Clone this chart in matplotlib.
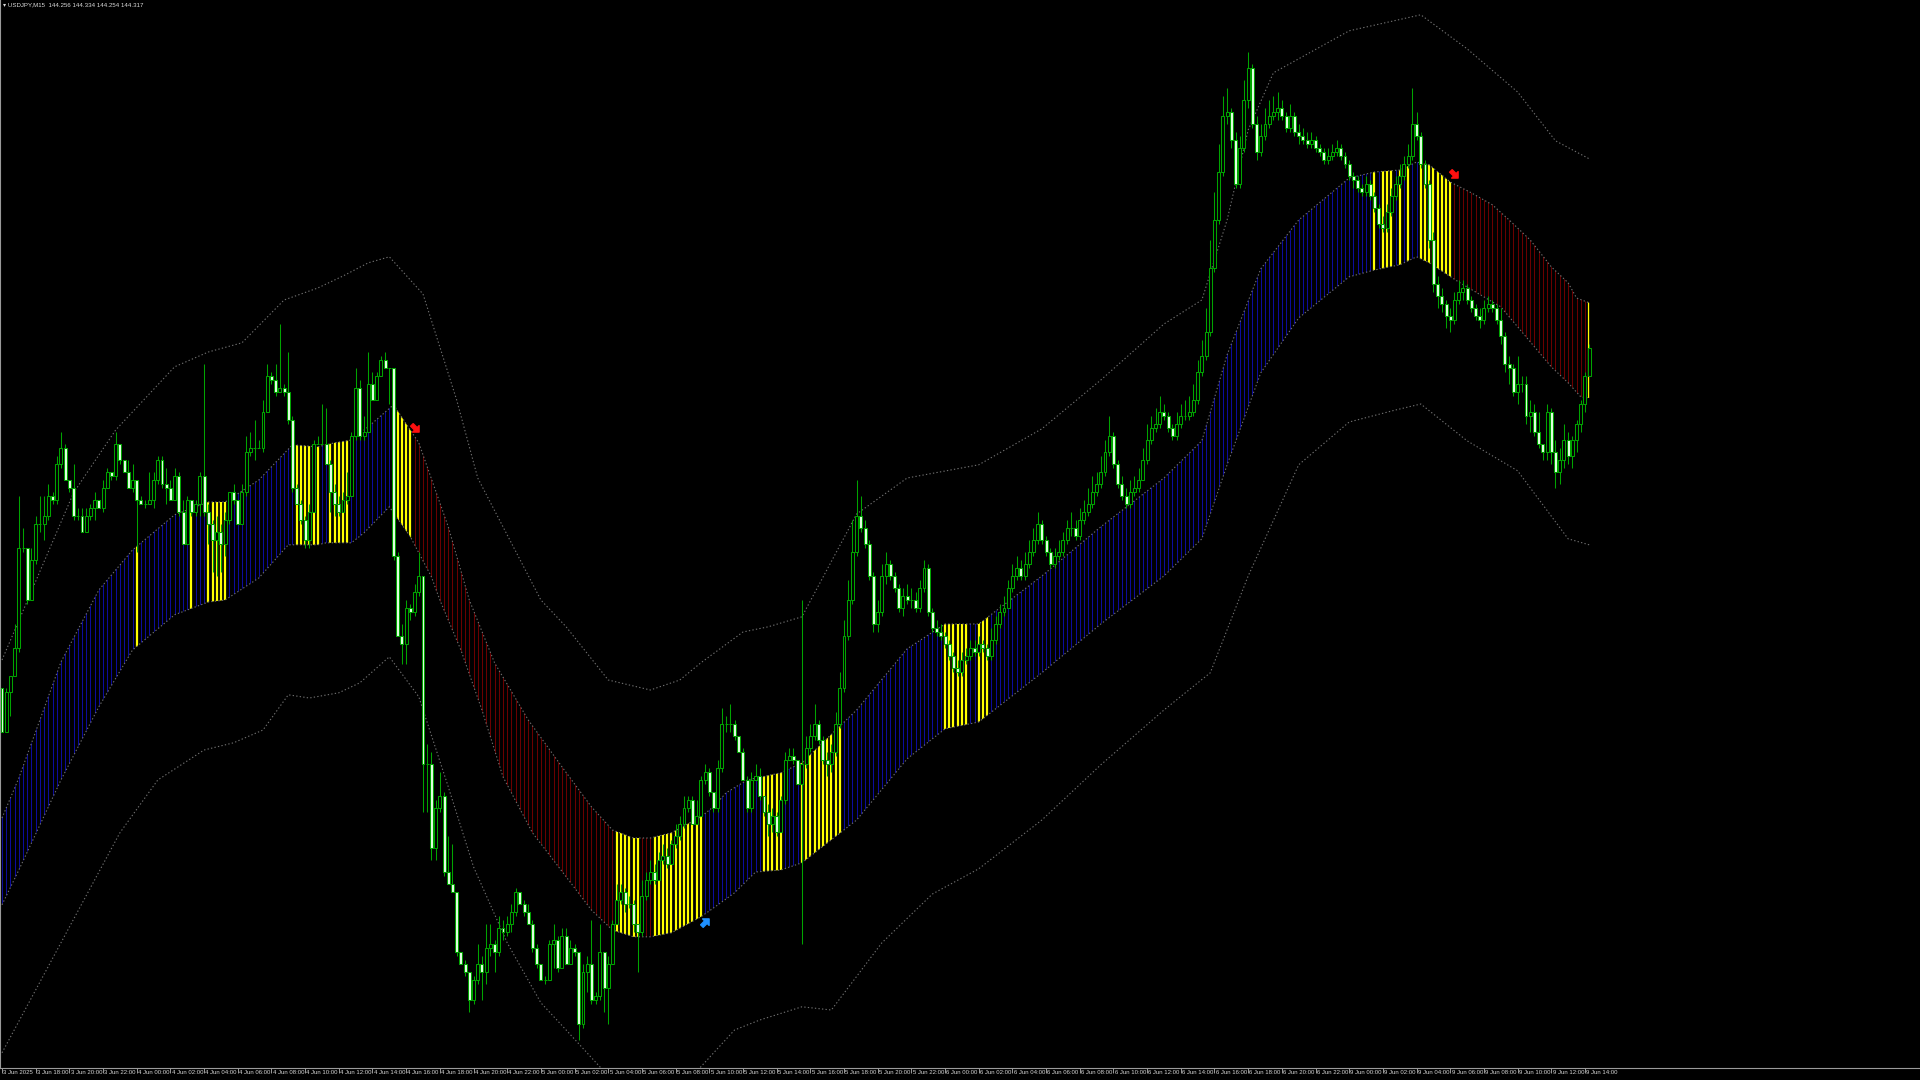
import numpy as np
import matplotlib
matplotlib.use('Agg')
import matplotlib.pyplot as plt
from matplotlib.patches import Polygon
from matplotlib.path import Path
from matplotlib.transforms import blended_transform_factory

# header line of the chart window
header = '\u25be USDJPY,M15  144.256 144.334 144.254 144.317'

# M15 candles, 3 Jun 16:00 -> 9 Jun 14:15 (open of each bar = close of the previous one)
first_open = 143.47
close = [
    143.36, 143.46, 143.50, 143.57, 143.82, 143.82, 143.69, 143.79, 143.88, 143.88,
    143.90, 143.95, 143.94, 144.03, 144.07, 143.99, 143.97, 143.90, 143.90, 143.86,
    143.90, 143.92, 143.94, 143.92, 143.97, 144.01, 144.00, 144.08, 144.04, 144.01,
    143.97, 143.99, 143.94, 143.93, 143.93, 143.94, 143.99, 144.04, 143.98, 143.97,
    143.94, 144.00, 143.91, 143.83, 143.94, 143.91, 143.93, 144.00, 143.91, 143.88,
    143.84, 143.86, 143.83, 143.89, 143.96, 143.94, 143.88, 143.96, 144.06, 144.07,
    144.07, 144.07, 144.16, 144.25, 144.24, 144.21, 144.22, 144.21, 144.14, 143.97,
    143.93, 143.89, 143.84, 143.91, 144.08, 144.08, 144.08, 144.03, 143.96, 143.93,
    143.91, 143.94, 143.95, 144.10, 144.22, 144.10, 144.11, 144.23, 144.19, 144.25,
    144.29, 144.27, 144.27, 143.80, 143.60, 143.58, 143.67, 143.66, 143.71, 143.75,
    143.28, 143.28, 143.07, 143.17, 143.20, 143.01, 142.98, 142.96, 142.81, 142.78,
    142.76, 142.69, 142.74, 142.78, 142.76, 142.82, 142.83, 142.81, 142.87, 142.86,
    142.88, 142.91, 142.96, 142.93, 142.91, 142.88, 142.82, 142.78, 142.74, 142.74,
    142.83, 142.84, 142.77, 142.85, 142.78, 142.82, 142.81, 142.63, 142.76, 142.78,
    142.69, 142.70, 142.81, 142.72, 142.78, 142.88, 142.94, 142.96, 142.93, 142.93,
    142.88, 142.86, 142.95, 142.99, 143.01, 142.99, 143.04, 143.05, 143.03, 143.08,
    143.10, 143.13, 143.17, 143.19, 143.13, 143.15, 143.24, 143.26, 143.21, 143.17,
    143.27, 143.38, 143.38, 143.38, 143.35, 143.31, 143.24, 143.17, 143.24, 143.25,
    143.20, 143.16, 143.13, 143.15, 143.11, 143.19, 143.29, 143.30, 143.29, 143.23,
    143.28, 143.32, 143.35, 143.38, 143.34, 143.29, 143.28, 143.31, 143.38, 143.47,
    143.60, 143.69, 143.81, 143.90, 143.87, 143.83, 143.75, 143.63, 143.66, 143.75,
    143.78, 143.75, 143.72, 143.67, 143.70, 143.69, 143.69, 143.67, 143.72, 143.77,
    143.66, 143.62, 143.61, 143.60, 143.58, 143.55, 143.52, 143.51, 143.54, 143.55,
    143.57, 143.56, 143.58, 143.57, 143.55, 143.59, 143.63, 143.66, 143.67, 143.72,
    143.75, 143.77, 143.75, 143.78, 143.81, 143.84, 143.88, 143.84, 143.81, 143.78,
    143.80, 143.81, 143.84, 143.87, 143.87, 143.85, 143.89, 143.91, 143.93, 143.96,
    143.98, 144.01, 144.06, 144.10, 144.03, 143.98, 143.95, 143.93, 143.96, 143.97,
    143.99, 144.04, 144.09, 144.12, 144.13, 144.16, 144.15, 144.12, 144.10, 144.13,
    144.15, 144.15, 144.16, 144.19, 144.26, 144.30, 144.36, 144.52, 144.64, 144.76,
    144.90, 144.91, 144.84, 144.73, 144.82, 144.94, 145.02, 144.88, 144.81, 144.85,
    144.88, 144.90, 144.91, 144.92, 144.90, 144.87, 144.90, 144.86, 144.85, 144.84,
    144.83, 144.84, 144.82, 144.81, 144.79, 144.80, 144.81, 144.82, 144.80, 144.78,
    144.75, 144.74, 144.72, 144.71, 144.73, 144.70, 144.67, 144.63, 144.62, 144.66,
    144.70, 144.73, 144.75, 144.78, 144.80, 144.88, 144.85, 144.78, 144.73, 144.59,
    144.48, 144.45, 144.43, 144.40, 144.39, 144.44, 144.46, 144.47, 144.44, 144.42,
    144.40, 144.39, 144.42, 144.43, 144.42, 144.39, 144.35, 144.28, 144.27, 144.21,
    144.23, 144.23, 144.15, 144.16, 144.11, 144.08, 144.06, 144.16, 144.06, 144.01,
    144.04, 144.09, 144.05, 144.09, 144.13, 144.18, 144.25, 144.32,
]
high = [
    143.47, 143.47, 143.50, 143.63, 143.95, 143.87, 143.82, 143.82, 143.90, 143.95,
    143.95, 143.98, 143.96, 144.05, 144.11, 144.08, 143.99, 144.03, 143.92, 143.92,
    143.92, 143.93, 143.96, 143.94, 143.99, 144.02, 144.01, 144.11, 144.08, 144.04,
    144.04, 144.03, 143.97, 143.95, 143.94, 144.01, 144.01, 144.05, 144.05, 144.02,
    143.99, 144.02, 144.01, 143.94, 143.95, 143.94, 143.94, 144.01, 144.28, 143.93,
    143.89, 143.90, 143.88, 143.91, 143.96, 143.98, 143.94, 143.98, 144.10, 144.11,
    144.14, 144.09, 144.19, 144.28, 144.26, 144.28, 144.38, 144.23, 144.31, 144.15,
    143.98, 143.94, 143.90, 143.93, 144.09, 144.10, 144.18, 144.17, 144.04, 143.98,
    143.95, 143.96, 144.01, 144.11, 144.27, 144.24, 144.15, 144.31, 144.26, 144.26,
    144.30, 144.31, 144.27, 144.27, 143.81, 143.63, 143.69, 143.68, 143.73, 143.81,
    143.75, 143.33, 143.31, 143.19, 143.26, 143.21, 143.10, 143.08, 142.96, 142.81,
    142.79, 142.76, 142.75, 142.83, 142.80, 142.88, 142.88, 142.84, 142.90, 142.89,
    142.90, 142.93, 142.97, 142.96, 142.94, 142.93, 142.89, 142.83, 142.77, 142.75,
    142.84, 142.88, 142.85, 142.87, 142.87, 142.84, 142.83, 142.81, 142.78, 142.80,
    142.89, 142.71, 142.88, 142.81, 142.80, 142.89, 142.98, 142.98, 142.97, 142.95,
    142.94, 142.88, 142.99, 143.01, 143.04, 143.03, 143.06, 143.08, 143.07, 143.09,
    143.13, 143.15, 143.20, 143.20, 143.20, 143.19, 143.25, 143.28, 143.27, 143.21,
    143.29, 143.42, 143.40, 143.43, 143.39, 143.35, 143.32, 143.25, 143.26, 143.28,
    143.27, 143.20, 143.18, 143.17, 143.16, 143.20, 143.31, 143.32, 143.32, 143.29,
    143.69, 143.35, 143.38, 143.43, 143.39, 143.35, 143.31, 143.33, 143.41, 143.51,
    143.64, 143.74, 143.89, 143.99, 143.95, 143.89, 143.84, 143.76, 143.69, 143.78,
    143.81, 143.79, 143.76, 143.73, 143.72, 143.73, 143.72, 143.71, 143.74, 143.79,
    143.78, 143.67, 143.64, 143.63, 143.61, 143.59, 143.56, 143.54, 143.56, 143.57,
    143.59, 143.59, 143.60, 143.59, 143.58, 143.62, 143.65, 143.68, 143.70, 143.74,
    143.78, 143.80, 143.79, 143.81, 143.84, 143.87, 143.91, 143.89, 143.85, 143.82,
    143.82, 143.84, 143.86, 143.89, 143.91, 143.89, 143.92, 143.94, 143.97, 144.00,
    144.01, 144.05, 144.09, 144.15, 144.11, 144.04, 144.00, 143.97, 143.99, 144.00,
    144.02, 144.07, 144.13, 144.15, 144.17, 144.20, 144.18, 144.16, 144.13, 144.16,
    144.18, 144.19, 144.20, 144.23, 144.29, 144.34, 144.42, 144.59, 144.71, 144.83,
    144.95, 144.97, 144.92, 144.86, 144.85, 144.99, 145.06, 145.03, 144.90, 144.88,
    144.92, 144.94, 144.95, 144.96, 144.94, 144.91, 144.93, 144.91, 144.88, 144.87,
    144.86, 144.86, 144.85, 144.83, 144.82, 144.82, 144.83, 144.84, 144.83, 144.81,
    144.79, 144.76, 144.75, 144.73, 144.75, 144.74, 144.71, 144.68, 144.65, 144.68,
    144.72, 144.75, 144.78, 144.80, 144.83, 144.97, 144.91, 144.86, 144.79, 144.74,
    144.61, 144.50, 144.47, 144.44, 144.42, 144.46, 144.49, 144.49, 144.48, 144.45,
    144.43, 144.42, 144.44, 144.45, 144.44, 144.43, 144.42, 144.36, 144.30, 144.28,
    144.30, 144.25, 144.25, 144.19, 144.18, 144.16, 144.08, 144.18, 144.17, 144.09,
    144.07, 144.13, 144.11, 144.10, 144.14, 144.19, 144.26, 144.33,
]
low = [
    143.36, 143.36, 143.40, 143.50, 143.56, 143.81, 143.68, 143.69, 143.78, 143.86,
    143.84, 143.89, 143.93, 143.93, 144.02, 143.99, 143.96, 143.89, 143.89, 143.86,
    143.86, 143.89, 143.89, 143.92, 143.91, 143.97, 143.99, 143.99, 144.03, 144.01,
    143.97, 143.96, 143.81, 143.93, 143.92, 143.93, 143.92, 143.98, 143.97, 143.93,
    143.94, 143.94, 143.90, 143.83, 143.83, 143.90, 143.90, 143.90, 143.90, 143.83,
    143.76, 143.75, 143.76, 143.80, 143.88, 143.93, 143.88, 143.88, 143.95, 144.05,
    144.04, 144.07, 144.06, 144.16, 144.23, 144.20, 144.21, 144.20, 144.13, 143.96,
    143.93, 143.88, 143.82, 143.82, 143.91, 144.08, 144.08, 144.03, 143.91, 143.90,
    143.90, 143.91, 143.93, 143.95, 144.09, 144.09, 144.09, 144.11, 144.19, 144.19,
    144.25, 144.27, 144.18, 143.79, 143.60, 143.53, 143.53, 143.64, 143.65, 143.70,
    143.16, 143.16, 143.04, 143.04, 143.16, 143.00, 142.98, 142.96, 142.80, 142.78,
    142.75, 142.66, 142.68, 142.73, 142.69, 142.73, 142.80, 142.76, 142.80, 142.84,
    142.85, 142.86, 142.90, 142.93, 142.90, 142.88, 142.81, 142.77, 142.74, 142.73,
    142.74, 142.77, 142.76, 142.77, 142.78, 142.78, 142.80, 142.59, 142.62, 142.71,
    142.68, 142.68, 142.69, 142.66, 142.63, 142.78, 142.88, 142.93, 142.91, 142.92,
    142.86, 142.76, 142.85, 142.94, 142.98, 142.98, 142.99, 143.03, 143.02, 143.03,
    143.07, 143.09, 143.12, 143.16, 143.13, 143.13, 143.15, 143.23, 143.20, 143.16,
    143.16, 143.26, 143.36, 143.36, 143.34, 143.31, 143.24, 143.16, 143.16, 143.24,
    143.19, 143.15, 143.10, 143.11, 143.10, 143.11, 143.18, 143.29, 143.28, 143.23,
    142.83, 143.27, 143.31, 143.34, 143.33, 143.28, 143.25, 143.26, 143.30, 143.37,
    143.46, 143.59, 143.68, 143.80, 143.86, 143.82, 143.74, 143.61, 143.61, 143.65,
    143.73, 143.74, 143.71, 143.66, 143.65, 143.68, 143.67, 143.66, 143.66, 143.71,
    143.65, 143.61, 143.60, 143.59, 143.57, 143.54, 143.51, 143.50, 143.50, 143.53,
    143.54, 143.55, 143.55, 143.56, 143.54, 143.54, 143.58, 143.62, 143.65, 143.67,
    143.71, 143.74, 143.74, 143.74, 143.77, 143.80, 143.83, 143.83, 143.80, 143.77,
    143.77, 143.79, 143.80, 143.83, 143.85, 143.84, 143.84, 143.88, 143.90, 143.92,
    143.95, 143.97, 144.00, 144.05, 144.02, 143.97, 143.94, 143.92, 143.92, 143.95,
    143.96, 143.99, 144.03, 144.08, 144.11, 144.12, 144.14, 144.11, 144.09, 144.09,
    144.12, 144.14, 144.14, 144.15, 144.18, 144.25, 144.29, 144.35, 144.51, 144.63,
    144.75, 144.88, 144.82, 144.72, 144.72, 144.81, 144.92, 144.87, 144.79, 144.80,
    144.84, 144.87, 144.89, 144.89, 144.89, 144.86, 144.86, 144.85, 144.83, 144.83,
    144.82, 144.82, 144.81, 144.80, 144.78, 144.78, 144.79, 144.80, 144.79, 144.77,
    144.74, 144.72, 144.71, 144.70, 144.70, 144.69, 144.66, 144.62, 144.61, 144.61,
    144.65, 144.69, 144.72, 144.74, 144.77, 144.79, 144.84, 144.77, 144.72, 144.57,
    144.46, 144.42, 144.41, 144.37, 144.36, 144.38, 144.43, 144.44, 144.43, 144.41,
    144.39, 144.37, 144.38, 144.41, 144.41, 144.38, 144.33, 144.26, 144.23, 144.20,
    144.18, 144.21, 144.13, 144.11, 144.10, 144.07, 144.04, 144.04, 144.03, 143.97,
    143.98, 144.02, 144.03, 144.02, 144.06, 144.11, 144.16, 144.25,
]

# inner channel (histogram area) edges: bar index -> price
band_top_idx = [0, 4, 14, 23, 31, 41, 49, 53, 61, 69, 75, 79, 83, 87, 93, 99, 106, 111, 117, 125,
                133, 140, 145, 150, 154, 159, 166, 169, 172, 177, 185, 190, 203, 215, 224, 232, 247,
                261, 276, 285, 291, 299, 308, 320, 326, 332, 336, 339, 344, 349, 354, 358, 363, 368,
                372, 374, 377]
band_top = [143.145, 143.245, 143.535, 143.715, 143.815, 143.903, 143.935, 143.935, 143.99, 144.078,
            144.073, 144.083, 144.09, 144.123, 144.178, 144.083, 143.873, 143.69, 143.533, 143.39,
            143.273, 143.173, 143.115, 143.095, 143.095, 143.108, 143.148, 143.173, 143.208, 143.24,
            143.258, 143.283, 143.415, 143.568, 143.63, 143.63, 143.75, 143.873, 143.995, 144.088,
            144.303, 144.518, 144.64, 144.745, 144.76, 144.765, 144.785, 144.778, 144.735, 144.708,
            144.678, 144.64, 144.59, 144.523, 144.483, 144.445, 144.433]
band_bot_idx = [0, 4, 14, 23, 31, 41, 49, 53, 61, 68, 75, 77, 83, 86, 92, 97, 102, 104, 109, 114,
                119, 126, 134, 140, 145, 150, 154, 159, 166, 169, 174, 179, 185, 190, 203, 215, 224,
                232, 247, 261, 276, 285, 291, 299, 308, 320, 326, 332, 336, 339, 346, 356, 360, 364,
                368, 372, 375, 377]
band_bot = [142.928, 143.015, 143.24, 143.423, 143.565, 143.653, 143.685, 143.69, 143.745, 143.828,
            143.828, 143.833, 143.833, 143.858, 143.923, 143.848, 143.748, 143.69, 143.565, 143.415,
            143.248, 143.108, 142.998, 142.915, 142.865, 142.848, 142.848, 142.858, 142.898, 142.92,
            142.958, 143.01, 143.015, 143.033, 143.14, 143.293, 143.368, 143.385, 143.508, 143.63,
            143.75, 143.843, 144.028, 144.258, 144.395, 144.498, 144.515, 144.528, 144.548, 144.533,
            144.485, 144.423, 144.373, 144.323, 144.273, 144.233, 144.198, 144.195]

# outer envelope (dotted)
outer_up_idx = [0, 17, 27, 41, 49, 57, 67, 75, 81, 87, 92, 100, 108, 113, 128, 134, 144, 154, 161,
                166, 176, 182, 190, 203, 215, 232, 247, 261, 276, 285, 291, 296, 302, 320, 337, 348,
                360, 369, 377]
outer_up = [143.54, 143.958, 144.115, 144.273, 144.31, 144.333, 144.44, 144.47, 144.5, 144.533,
            144.548, 144.455, 144.19, 143.995, 143.69, 143.623, 143.49, 143.465, 143.49, 143.533,
            143.61, 143.623, 143.648, 143.905, 143.995, 144.028, 144.118, 144.24, 144.38, 144.44,
            144.64, 144.865, 145.008, 145.113, 145.153, 145.068, 144.96, 144.838, 144.793]
outer_lo_idx = [0, 14, 28, 37, 48, 55, 62, 68, 73, 80, 85, 92, 99, 106, 112, 120, 128, 134, 142,
                150, 158, 166, 174, 180, 190, 197, 209, 221, 232, 247, 261, 276, 287, 296, 308, 320,
                331, 337, 348, 360, 372, 377]
outer_lo = [142.558, 142.833, 143.108, 143.24, 143.315, 143.333, 143.365, 143.453, 143.445, 143.458,
            143.483, 143.548, 143.448, 143.223, 143.023, 142.833, 142.683, 142.615, 142.523, 142.453,
            142.453, 142.523, 142.615, 142.64, 142.673, 142.665, 142.833, 142.955, 143.018, 143.14,
            143.278, 143.415, 143.508, 143.75, 144.028, 144.135, 144.165, 144.18, 144.088, 144.013,
            143.843, 143.828]

# histogram state per run of bars: (first bar, last bar, state)
trend_runs = [
    (0, 31, 'up'), (32, 32, 'flat'), (33, 44, 'up'), (45, 45, 'flat'), (46, 48, 'up'),
    (49, 53, 'flat'), (54, 69, 'up'), (70, 75, 'flat'), (76, 77, 'up'), (78, 82, 'flat'),
    (83, 92, 'up'), (93, 97, 'flat'), (98, 145, 'down'), (146, 151, 'flat'), (152, 154, 'down'),
    (155, 166, 'flat'), (167, 180, 'up'), (181, 185, 'flat'), (186, 189, 'up'), (190, 199, 'flat'),
    (200, 223, 'up'), (224, 229, 'flat'), (230, 231, 'up'), (232, 234, 'flat'), (235, 325, 'up'),
    (326, 326, 'flat'), (327, 327, 'up'), (328, 330, 'flat'), (331, 331, 'up'), (332, 332, 'flat'),
    (333, 333, 'up'), (334, 334, 'flat'), (335, 336, 'up'), (337, 344, 'flat'), (345, 376, 'down'),
    (377, 377, 'flat'),
]

# signal arrows
sell_idx = [98, 345]
sell_price = [144.12, 144.755]
buy_idx = [167]
buy_price = [142.885]

tick_labels = [
    '3 Jun 2025', '3 Jun 18:00', '3 Jun 20:00', '3 Jun 22:00',
    '4 Jun 00:00', '4 Jun 02:00', '4 Jun 04:00', '4 Jun 06:00', '4 Jun 08:00', '4 Jun 10:00',
    '4 Jun 12:00', '4 Jun 14:00', '4 Jun 16:00', '4 Jun 18:00', '4 Jun 20:00', '4 Jun 22:00',
    '5 Jun 00:00', '5 Jun 02:00', '5 Jun 04:00', '5 Jun 06:00', '5 Jun 08:00', '5 Jun 10:00',
    '5 Jun 12:00', '5 Jun 14:00', '5 Jun 16:00', '5 Jun 18:00', '5 Jun 20:00', '5 Jun 22:00',
    '6 Jun 00:00', '6 Jun 02:00', '6 Jun 04:00', '6 Jun 06:00', '6 Jun 08:00', '6 Jun 10:00',
    '6 Jun 12:00', '6 Jun 14:00', '6 Jun 16:00', '6 Jun 18:00', '6 Jun 20:00', '6 Jun 22:00',
    '9 Jun 00:00', '9 Jun 02:00', '9 Jun 04:00', '9 Jun 06:00', '9 Jun 08:00', '9 Jun 10:00',
    '9 Jun 12:00', '9 Jun 14:00',
]

hist_colors = {'up': '#0c0c9c', 'down': '#6a0000', 'flat': '#ffff00'}
hist_widths = {'up': 0.75, 'down': 0.75, 'flat': 1.6}
candle_green = '#00a400'
bear_face = '#e4ffe4'
dot_grey = '#707070'
small_font = ['Liberation Sans Narrow', 'Liberation Sans', 'DejaVu Sans']

y_top, y_bot = 145.19, 142.52

fig = plt.figure(figsize=(19.2, 10.8), dpi=100, facecolor='black')
ax = fig.add_axes([0, 12 / 1080, 1, 1068 / 1080])
ax.set_facecolor('black')
ax.set_xlim(-2 / 4.21, 1918 / 4.21)
ax.set_ylim(y_bot, y_top)

c = np.array(close)
o = np.concatenate([[first_open], c[:-1]])
h = np.array(high)
l = np.array(low)
x = np.arange(len(c))
bull = c >= o

# channel histogram, clipped to the channel polygon
verts = list(zip(band_top_idx, band_top)) + list(zip(band_bot_idx[::-1], band_bot[::-1]))
channel = Polygon(verts, closed=True, facecolor='none', edgecolor='none')
ax.add_patch(channel)
for first, last, state in trend_runs:
    bars = np.arange(first, last + 1)
    lc = ax.vlines(bars, y_bot, y_top, colors=hist_colors[state],
                   linewidth=hist_widths[state], zorder=1)
    lc.set_clip_path(channel)

dots = dict(color=dot_grey, linewidth=0.8, dashes=(1.2, 2.0), zorder=1.5)
ax.plot(band_top_idx, band_top, **dots)
ax.plot(band_bot_idx, band_bot, **dots)
ax.plot(outer_up_idx, outer_up, **dots)
ax.plot(outer_lo_idx, outer_lo, **dots)

# candles
ax.vlines(x, l, h, colors=candle_green, linewidth=0.75, zorder=2)
body_lo = np.minimum(o, c)
body_h = np.abs(c - o)
ax.bar(x[bull], body_h[bull], bottom=body_lo[bull], width=0.7,
       color='black', edgecolor=candle_green, linewidth=0.75, zorder=3)
ax.bar(x[~bull], body_h[~bull], bottom=body_lo[~bull], width=0.7,
       color=bear_face, edgecolor=candle_green, linewidth=0.75, zorder=3)

# arrow markers
arrow = np.array([[-1, -0.35], [0.1, -0.35], [0.1, -0.9], [1, 0], [0.1, 0.9],
                  [0.1, 0.35], [-1, 0.35], [-1, -0.35]])


def turned(deg):
    t = np.deg2rad(deg)
    rot = np.array([[np.cos(t), -np.sin(t)], [np.sin(t), np.cos(t)]])
    return Path(arrow @ rot.T, closed=True)


ax.plot(sell_idx, sell_price, linestyle='none', marker=turned(-45), markersize=7,
        color='#ff1010', zorder=4)
ax.plot(buy_idx, buy_price, linestyle='none', marker=turned(45), markersize=7,
        color='#1e90ff', zorder=4)

# frame and time axis
for side in ['top', 'right']:
    ax.spines[side].set_visible(False)
ax.spines['bottom'].set_color('#9a9a9a')
ax.spines['left'].set_color('#9a9a9a')
ax.spines['bottom'].set_linewidth(0.8)
ax.spines['left'].set_linewidth(0.8)
ax.set_yticks([])
tick_pos = np.arange(0, len(tick_labels) * 8, 8)
ax.set_xticks(tick_pos)
ax.tick_params(axis='x', direction='out', length=3.5, width=0.7, color='#9a9a9a',
               labelbottom=False)
trans = blended_transform_factory(ax.transData, ax.transAxes)
for pos, lbl in zip(tick_pos, tick_labels):
    ax.text(pos + 0.3, -0.0022, lbl, transform=trans, ha='left', va='top',
            fontsize=4.3, color='#d4d4d4', family=small_font)

fig.text(3 / 1920, 1 - 2 / 1080, header, ha='left', va='top', fontsize=4.4,
         color='#dadada', family=small_font)

fig.savefig('out.png', dpi=100, facecolor='black')
